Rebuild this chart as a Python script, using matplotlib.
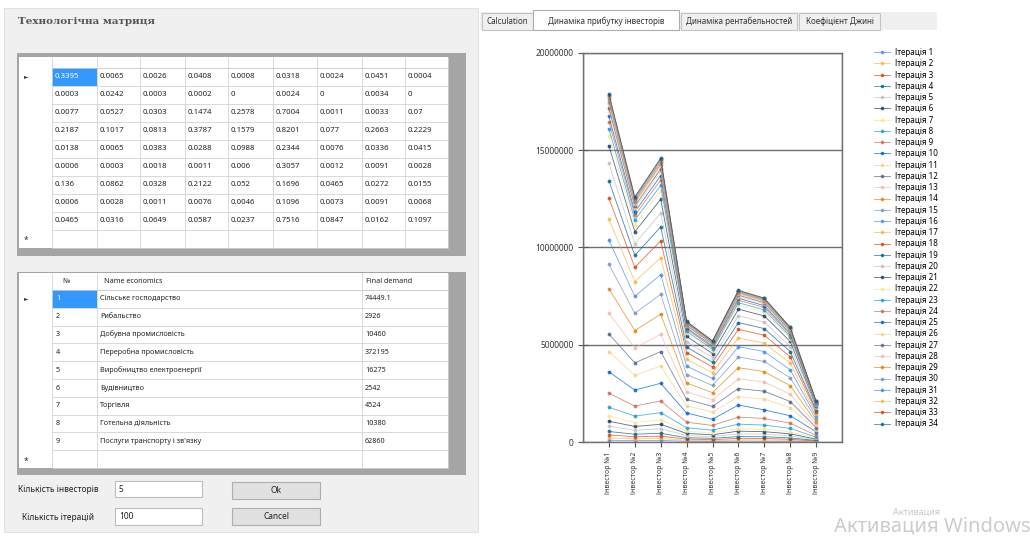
import numpy as np
import matplotlib.pyplot as plt
from matplotlib.patches import Rectangle

plt.rcParams['font.family'] = ['Noto Sans', 'DejaVu Sans']

# --- data ---
matrix = [
    ["0.3395", "0.0065", "0.0026", "0.0408", "0.0008", "0.0318", "0.0024", "0.0451", "0.0004"],
    ["0.0003", "0.0242", "0.0003", "0.0002", "0", "0.0024", "0", "0.0034", "0"],
    ["0.0077", "0.0527", "0.0303", "0.1474", "0.2578", "0.7004", "0.0011", "0.0033", "0.07"],
    ["0.2187", "0.1017", "0.0813", "0.3787", "0.1579", "0.8201", "0.077", "0.2663", "0.2229"],
    ["0.0138", "0.0065", "0.0383", "0.0288", "0.0988", "0.2344", "0.0076", "0.0336", "0.0415"],
    ["0.0006", "0.0003", "0.0018", "0.0011", "0.006", "0.3057", "0.0012", "0.0091", "0.0028"],
    ["0.136", "0.0862", "0.0328", "0.2122", "0.052", "0.1696", "0.0465", "0.0272", "0.0155"],
    ["0.0006", "0.0028", "0.0011", "0.0076", "0.0046", "0.1096", "0.0073", "0.0091", "0.0068"],
    ["0.0465", "0.0316", "0.0649", "0.0587", "0.0237", "0.7516", "0.0847", "0.0162", "0.1097"],
]
sector_ids = ["1", "2", "3", "4", "5", "6", "7", "8", "9"]
sectors = ["Сільське господарство", "Рибальство", "Добувна промисловість",
           "Переробна промисловість", "Виробництво електроенергії", "Будівництво",
           "Торгівля", "Готельна діяльність", "Послуги транспорту і зв'язку"]
final_demand = ["74449.1", "2926", "10460", "372195", "16275", "2542", "4524", "10380", "62860"]

tabs = ["Calculation", "Динаміка прибутку інвесторів", "Динаміка рентабельностей", "Коефіцієнт Джині"]
investors = ["Інвестор №1", "Інвестор №2", "Інвестор №3", "Інвестор №4", "Інвестор №5",
             "Інвестор №6", "Інвестор №7", "Інвестор №8", "Інвестор №9"]
y_ticks = [0, 5, 10, 15, 20]          # millions
y_tick_labels = ["0", "5000000", "10000000", "15000000", "20000000"]

# investor profit per iteration, millions
iterations = [
    [0.09, 0.07, 0.08, 0.04, 0.03, 0.05, 0.04, 0.04, 0.01],
    [0.21, 0.16, 0.18, 0.09, 0.07, 0.11, 0.11, 0.08, 0.03],
    [0.36, 0.27, 0.30, 0.15, 0.12, 0.19, 0.18, 0.14, 0.05],
    [0.54, 0.40, 0.45, 0.22, 0.19, 0.28, 0.27, 0.21, 0.08],
    [0.81, 0.60, 0.68, 0.33, 0.28, 0.42, 0.40, 0.32, 0.11],
    [1.07, 0.80, 0.91, 0.44, 0.37, 0.56, 0.53, 0.42, 0.15],
    [1.34, 1.00, 1.14, 0.55, 0.46, 0.69, 0.66, 0.52, 0.19],
    [1.79, 1.33, 1.51, 0.73, 0.61, 0.92, 0.87, 0.70, 0.25],
    [2.51, 1.85, 2.11, 1.02, 0.85, 1.28, 1.21, 0.97, 0.34],
    [3.61, 2.67, 3.02, 1.49, 1.17, 1.90, 1.65, 1.35, 0.53],
    [4.65, 3.42, 3.91, 1.85, 1.55, 2.33, 2.21, 1.76, 0.63],
    [5.55, 4.07, 4.65, 2.19, 1.83, 2.75, 2.61, 2.08, 0.74],
    [6.62, 4.84, 5.54, 2.58, 2.17, 3.25, 3.08, 2.46, 0.87],
    [7.88, 5.73, 6.57, 3.03, 2.54, 3.82, 3.62, 2.89, 1.03],
    [9.13, 6.62, 7.59, 3.47, 2.91, 4.37, 4.14, 3.30, 1.18],
    [10.38, 7.49, 8.61, 3.90, 3.27, 4.90, 4.65, 3.71, 1.32],
    [11.46, 8.24, 9.48, 4.25, 3.57, 5.35, 5.08, 4.05, 1.44],
    [12.53, 8.98, 10.34, 4.60, 3.86, 5.79, 5.49, 4.38, 1.56],
    [13.43, 9.59, 11.06, 4.88, 4.10, 6.14, 5.83, 4.65, 1.65],
    [14.32, 10.20, 11.77, 5.16, 4.33, 6.49, 6.16, 4.91, 1.75],
    [15.22, 10.81, 12.48, 5.43, 4.55, 6.83, 6.48, 5.17, 1.84],
    [15.75, 11.17, 12.91, 5.59, 4.69, 7.03, 6.67, 5.32, 1.89],
    [16.11, 11.41, 13.19, 5.69, 4.77, 7.16, 6.79, 5.42, 1.93],
    [16.47, 11.65, 13.47, 5.80, 4.86, 7.29, 6.92, 5.51, 1.96],
    [16.74, 11.83, 13.69, 5.87, 4.93, 7.39, 7.01, 5.59, 1.99],
    [17.01, 12.01, 13.90, 5.95, 4.99, 7.48, 7.10, 5.66, 2.01],
    [17.18, 12.12, 14.04, 6.00, 5.03, 7.55, 7.16, 5.71, 2.03],
    [17.36, 12.24, 14.18, 6.05, 5.07, 7.61, 7.22, 5.76, 2.05],
    [17.49, 12.33, 14.28, 6.09, 5.10, 7.66, 7.26, 5.79, 2.06],
    [17.61, 12.41, 14.38, 6.12, 5.13, 7.70, 7.30, 5.82, 2.07],
    [17.72, 12.48, 14.46, 6.15, 5.16, 7.74, 7.34, 5.85, 2.08],
    [17.79, 12.53, 14.52, 6.17, 5.18, 7.76, 7.36, 5.87, 2.09],
    [17.85, 12.56, 14.56, 6.19, 5.19, 7.78, 7.38, 5.89, 2.10],
    [17.90, 12.60, 14.60, 6.20, 5.20, 7.80, 7.40, 5.90, 2.10],
]

# .NET "BrightPastel" palette
palette = ["#418CF0", "#FCB441", "#E0400A", "#056492", "#BFBFBF", "#1A3B69", "#FFE382",
           "#129CDD", "#CA6B4B", "#005CDB", "#F3D288", "#506381", "#F1B9A8", "#E0830A", "#7893BE"]

W, H = 1030, 539
fig = plt.figure(figsize=(W / 100, H / 100), dpi=100)
fig.patch.set_facecolor('white')

# pixel canvas for the form controls
bg = fig.add_axes([0, 0, 1, 1])
bg.set_xlim(0, W)
bg.set_ylim(H, 0)
bg.axis('off')


def box(x0, y0, x1, y1, fc, ec='none', lw=0.8):
    bg.add_patch(Rectangle((x0, y0), x1 - x0, y1 - y0, facecolor=fc, edgecolor=ec, linewidth=lw))


def line(xs, ys, c='#D2D2D2', lw=0.6):
    bg.plot(xs, ys, color=c, lw=lw, solid_capstyle='butt')


txt_kw = dict(fontsize=5.2, va='center', color='#222222')

# left form panel
box(4, 8, 478, 532, '#F0F0F0', '#E2E2E2')
bg.text(18, 21, "Технологічна матриця", fontsize=7.5, fontweight='bold', color='#555555',
        va='center', family='DejaVu Serif')

# table 1: technological matrix
cols1 = [52, 97, 140, 185, 228, 273, 317, 362, 405, 448]
row_h = 18
box(17, 53, 466, 256, '#A5A5A5')
box(18.5, 57, 448, 248, 'white')
line([52, 448], [68, 68], '#C8C8C8')
for r in range(1, 11):
    y = 68 + r * row_h
    line([52, 448], [y, y])
for c in cols1:
    line([c, c], [57, 248])
box(52, 68, 97, 86, '#3399FF')
for r, row in enumerate(matrix):
    yc = 77 + r * row_h
    for c, val in enumerate(row):
        bg.text(cols1[c] + 3, yc, val, fontsize=5.6, va='center',
                color='white' if (r, c) == (0, 0) else '#222222')
bg.text(24, 77, "►", fontsize=4, va='center', color='#333333')
bg.text(24, 240, "*", fontsize=6, va='center', color='#333333')

# table 2: sectors and final demand
cols2 = [52, 97, 362, 448]
row_h2 = 17.8
box(17, 272, 466, 475, '#A5A5A5')
box(18.5, 273, 448, 468, 'white')
line([52, 448], [290, 290], '#C8C8C8')
for r in range(1, 11):
    y = 290 + r * row_h2
    line([52, 448], [y, y])
for c in cols2:
    line([c, c], [273, 468])
bg.text(62, 281.5, "№", **txt_kw)
bg.text(104, 281.5, "Name economics", **txt_kw)
bg.text(366, 281.5, "Final demand", **txt_kw)
box(52, 290, 97, 290 + row_h2, '#3399FF')
for r in range(len(sectors)):
    yc = 299 + r * row_h2
    bg.text(56, yc, sector_ids[r], **dict(txt_kw, color='white' if r == 0 else '#222222'))
    bg.text(100, yc, sectors[r], **txt_kw)
    bg.text(365, yc, final_demand[r], **txt_kw)
bg.text(24, 299, "►", fontsize=4, va='center', color='#333333')
bg.text(24, 461, "*", fontsize=6, va='center', color='#333333')

# inputs and buttons
lbl_kw = dict(txt_kw, fontsize=6)
bg.text(18, 489, "Кількість інвесторів", **lbl_kw)
bg.text(22, 517, "Кількість ітерацій", **lbl_kw)
box(115, 481, 202, 497, 'white', '#BDBDBD')
box(115, 508, 202, 525, 'white', '#BDBDBD')
bg.text(119, 489, "5", **lbl_kw)
bg.text(119, 516.5, "100", **lbl_kw)
box(232, 482, 320, 499, '#E1E1E1', '#ADADAD')
box(232, 508, 320, 525, '#E1E1E1', '#ADADAD')
bg.text(276, 490.5, "Ok", ha='center', **lbl_kw)
bg.text(276, 516.5, "Cancel", ha='center', **lbl_kw)

# tab strip
box(480, 12, 937, 30, '#F0F0F0')
tab_edges = [(482, 533), (533, 679), (681, 797), (799, 880)]
for i, (name, (x0, x1)) in enumerate(zip(tabs, tab_edges)):
    if i == 1:
        box(x0, 10, x1, 30, 'white', '#ADADAD')
    else:
        box(x0, 13, x1, 30, '#F0F0F0', '#C4C4C4')
    bg.text((x0 + x1) / 2, 21, name, ha='center', va='center', fontsize=5.8, color='#333333')

# watermark
bg.text(893, 512, "Активация", fontsize=6.5, color='#C8C8C8', va='center')
bg.text(834, 526, "Активация Windows", fontsize=14.5, color='#CCCCCC', va='center')

# chart
ax = fig.add_axes([583 / W, 1 - 442 / H, (842 - 583) / W, (442 - 53) / H])
ax.set_facecolor('white')
xpos = np.arange(1, len(investors) + 1)
for i, vals in enumerate(iterations):
    ax.plot(xpos, vals, color=palette[i % len(palette)], lw=0.6, marker='o', ms=1.8,
            alpha=0.75, label=f"Ітерація {i + 1}")
ax.set_xlim(0, 10)
ax.set_ylim(0, 20)
ax.set_xticks(xpos)
ax.set_xticklabels(investors, rotation=90, fontsize=5, color='#333333')
ax.set_yticks(y_ticks)
ax.set_yticklabels(y_tick_labels, fontsize=6, color='#333333')
ax.set_xticks(np.arange(0, 11), minor=True)
ax.grid(which='minor', axis='x', color='#707070', lw=1.0)
ax.grid(which='major', axis='y', color='#707070', lw=1.0)
ax.tick_params(which='both', direction='inout', length=7, color='#555555', width=0.8)
ax.tick_params(which='minor', length=0)
for s in ax.spines.values():
    s.set_color('#707070')
    s.set_linewidth(1.0)

ax.legend(loc='upper left', bbox_to_anchor=(874 / W, 1 - 48 / H), bbox_transform=fig.transFigure,
          frameon=False, fontsize=5.8, labelspacing=0.28, handlelength=2.0, handletextpad=0.6,
          borderpad=0, borderaxespad=0, markerscale=0.9)

fig.savefig("out.png", dpi=100)
